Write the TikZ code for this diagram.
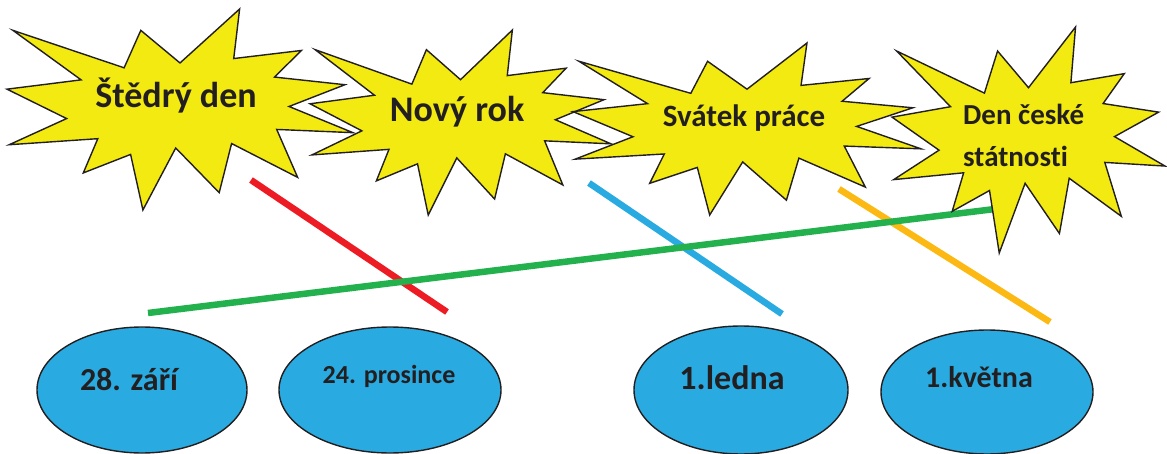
\documentclass[tikz,border=0pt]{standalone}
\usepackage{fontspec}
\setmainfont{Carlito}[Ligatures=NoCommon]
\usetikzlibrary{shapes.geometric}

\definecolor{burstyellow}{RGB}{242,234,16}
\definecolor{ovalblue}{RGB}{41,171,226}
\definecolor{inkblack}{RGB}{35,31,32}
\definecolor{matchred}{RGB}{237,28,36}
\definecolor{matchblue}{RGB}{41,170,225}
\definecolor{matchyellow}{RGB}{253,185,19}
\definecolor{matchgreen}{RGB}{34,177,76}

\begin{document}
\begin{tikzpicture}[
    x=1pt, y=-1pt,
    burstline/.style={draw=inkblack, fill=burstyellow, line width=1.4pt, line join=miter},
    burst/.pic={
      \path[burstline] (50.00,26.85) -- (67.23,0) -- (65.53,24.65) -- (85.09,20.63)
        -- (77.32,33.87) -- (97.67,37.67) -- (81.51,48.50) -- (100,61.53)
        -- (77.95,59.92) -- (84.00,83.77) -- (64.91,66.93) -- (61.33,91.38)
        -- (48.76,69.14) -- (39.28,100) -- (35.72,72.35) -- (22.05,81.56)
        -- (26.24,64.52) -- (0.63,67.53) -- (17.23,54.51) -- (0,39.88)
        -- (21.42,35.26) -- (1.71,10.63) -- (33.85,29.26) -- (38.67,10.63) -- cycle;
    },
    dateoval/.style={ellipse, draw=inkblack, fill=ovalblue, line width=1.4pt, inner sep=0pt},
    lab/.style={font=\bfseries, text=inkblack, anchor=base, inner sep=0pt},
    match/.style={line width=6.5pt},
    ]
  \useasboundingbox (0,0) rectangle (1167,454);

  % line ends
  \coordinate (r1) at (251,180);
  \coordinate (r2) at (447,312);
  \coordinate (b1) at (589,183);
  \coordinate (b2) at (782,314);
  \coordinate (y1) at (839,189);
  \coordinate (y2) at (1050,322);
  \coordinate (g1) at (148,313);
  \coordinate (g2) at (995,209);

  \draw[match, matchred] (r1) -- (r2);
  \draw[match, matchblue] (b1) -- (b2);
  \draw[match, matchyellow] (y1) -- (y2);
  \draw[match, matchgreen] (g1) -- (g2);

  % holidays
  \pic[xscale=3.46, yscale=2.01] at (7,9) {burst};
  \pic[xscale=3.01, yscale=1.85] at (310,30) {burst};
  \pic[xscale=3.48, yscale=1.72] at (573,43) {burst};
  \pic[xscale=2.73, yscale=2.26] at (892,27) {burst};

  \node[lab, font=\bfseries\fontsize{36}{43}\selectfont] (stedry) at (176,108) {Štědrý den};
  \node[lab, font=\bfseries\fontsize{36}{43}\selectfont] (novyrok) at (457,122) {Nový rok};
  \node[lab, font=\bfseries\fontsize{31}{37}\selectfont] (svatek) at (744,127) {Svátek práce};
  \node[lab, anchor=base west, align=left, font=\bfseries\fontsize{29}{42}\selectfont] (statnost) at (963,167) {Den české\\státnosti};

  % dates
  \node[dateoval, minimum width=210pt, minimum height=126pt] (zari) at (142,390) {};
  \node[dateoval, minimum width=222pt, minimum height=126pt] (prosinec) at (390,390) {};
  \node[dateoval, minimum width=214pt, minimum height=128pt] (leden) at (741,390) {};
  \node[dateoval, minimum width=212pt, minimum height=124pt] (kveten) at (987,392) {};

  \node[lab, font=\bfseries\fontsize{32}{38}\selectfont] (zarilab) at (129,390) {28. září};
  \node[lab, font=\bfseries\fontsize{26}{31}\selectfont] (prosineclab) at (389,383) {24. prosince};
  \node[lab, font=\bfseries\fontsize{34}{41}\selectfont] (ledenlab) at (732,389) {1.ledna};
  \node[lab, font=\bfseries\fontsize{30}{36}\selectfont] (kvetenlab) at (979,387) {1.května};
\end{tikzpicture}
\end{document}
